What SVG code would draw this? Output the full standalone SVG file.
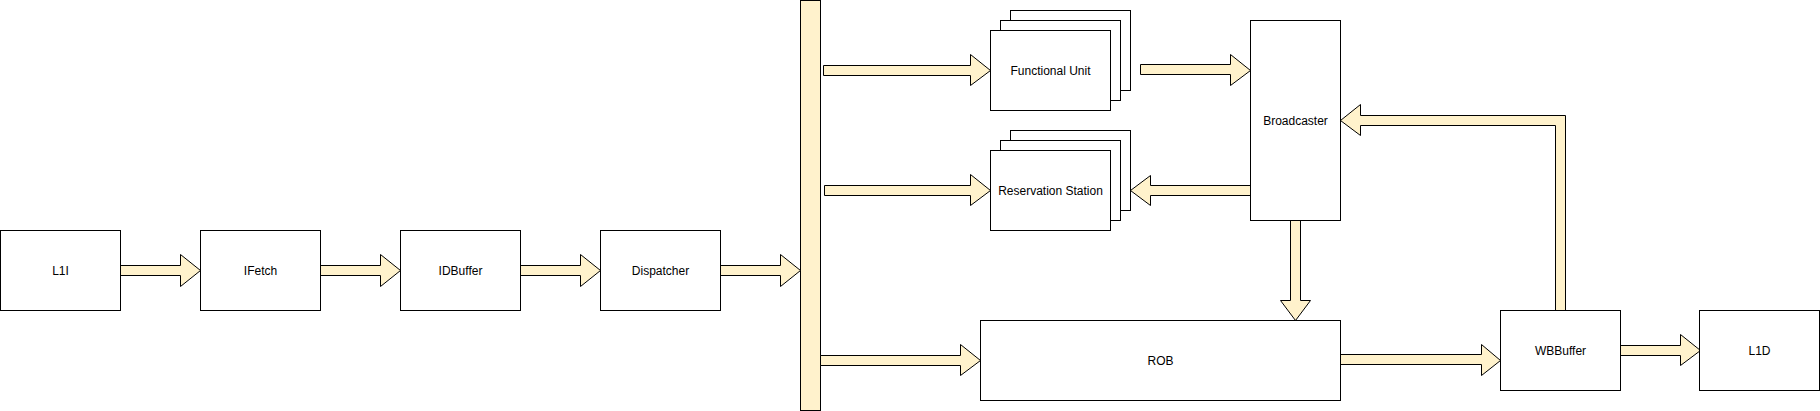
<svg xmlns="http://www.w3.org/2000/svg" width="1820" height="411" viewBox="0 0 1820 411">
<style>
.box{fill:#ffffff;stroke:#000000;stroke-width:1}
.arr{fill:#fff2cc;stroke:#000000;stroke-width:1;stroke-linejoin:miter}
.bar{fill:#fff2cc;stroke:#000000;stroke-width:1}
.lbl{font-family:"Liberation Sans",Arial,sans-serif;font-size:12px;fill:#000000;text-anchor:middle;dominant-baseline:central}
</style>
<rect width="1820" height="411" fill="#ffffff"/>
<g id="bus">
<rect class="bar" x="800.5" y="0.5" width="20" height="410"/>
</g>
<g id="connectors">
<path class="arr" d="M120.5,265.5 L180.5,265.5 L180.5,254.5 L200.5,270.5 L180.5,286.5 L180.5,275.5 L120.5,275.5 Z"/>
<path class="arr" d="M320.5,265.5 L380.5,265.5 L380.5,254.5 L400.5,270.5 L380.5,286.5 L380.5,275.5 L320.5,275.5 Z"/>
<path class="arr" d="M520.5,265.5 L580.5,265.5 L580.5,254.5 L600.5,270.5 L580.5,286.5 L580.5,275.5 L520.5,275.5 Z"/>
<path class="arr" d="M720.5,265.5 L780.5,265.5 L780.5,254.5 L800.5,270.5 L780.5,286.5 L780.5,275.5 L720.5,275.5 Z"/>
<path class="arr" d="M823.5,65.5 L970.5,65.5 L970.5,54.5 L990.5,70.5 L970.5,85.5 L970.5,75.5 L823.5,75.5 Z"/>
<path class="arr" d="M824.5,185.5 L970.5,185.5 L970.5,174.5 L990.5,190.5 L970.5,205.5 L970.5,195.5 L824.5,195.5 Z"/>
<path class="arr" d="M820.5,355.5 L960.5,355.5 L960.5,344.5 L980.5,360.5 L960.5,375.5 L960.5,365.5 L820.5,365.5 Z"/>
<path class="arr" d="M1140.5,64.5 L1230.5,64.5 L1230.5,54.5 L1250.5,70.5 L1230.5,85.5 L1230.5,74.5 L1140.5,74.5 Z"/>
<path class="arr" d="M1250.5,185.5 L1150.5,185.5 L1150.5,175.5 L1130.5,190.5 L1150.5,205.5 L1150.5,195.5 L1250.5,195.5 Z"/>
<path class="arr" d="M1290.5,220.5 L1290.5,300.5 L1280.5,300.5 L1295.5,320.5 L1310.5,300.5 L1300.5,300.5 L1300.5,220.5 Z"/>
<path class="arr" d="M1340.5,354.5 L1481.5,354.5 L1481.5,344.5 L1500.5,360.5 L1481.5,375.5 L1481.5,364.5 L1340.5,364.5 Z"/>
<path class="arr" d="M1620.5,345.5 L1680.5,345.5 L1680.5,334.5 L1700.5,350.5 L1680.5,365.5 L1680.5,355.5 L1620.5,355.5 Z"/>
<path class="arr" d="M1555.5,310.5 L1555.5,125.5 L1360.5,125.5 L1360.5,135.5 L1340.5,120.5 L1360.5,104.5 L1360.5,115.5 L1565.5,115.5 L1565.5,310.5 Z"/>
</g>
<g id="L1I">
<rect class="box" x="0.5" y="230.5" width="120" height="80"/>
<text class="lbl" x="60.5" y="270.5">L1I</text>
</g>
<g id="IFetch">
<rect class="box" x="200.5" y="230.5" width="120" height="80"/>
<text class="lbl" x="260.5" y="270.5">IFetch</text>
</g>
<g id="IDBuffer">
<rect class="box" x="400.5" y="230.5" width="120" height="80"/>
<text class="lbl" x="460.5" y="270.5">IDBuffer</text>
</g>
<g id="Dispatcher">
<rect class="box" x="600.5" y="230.5" width="120" height="80"/>
<text class="lbl" x="660.5" y="270.5">Dispatcher</text>
</g>
<g id="FunctionalUnit">
<rect class="box" x="1010.5" y="10.5" width="120" height="80"/>
<rect class="box" x="1000.5" y="20.5" width="120" height="80"/>
<rect class="box" x="990.5" y="30.5" width="120" height="80"/>
<text class="lbl" x="1050.5" y="70.5">Functional Unit</text>
</g>
<g id="ReservationStation">
<rect class="box" x="1010.5" y="130.5" width="120" height="80"/>
<rect class="box" x="1000.5" y="140.5" width="120" height="80"/>
<rect class="box" x="990.5" y="150.5" width="120" height="80"/>
<text class="lbl" x="1050.5" y="190.5">Reservation Station</text>
</g>
<g id="Broadcaster">
<rect class="box" x="1250.5" y="20.5" width="90" height="200"/>
<text class="lbl" x="1295.5" y="120.5">Broadcaster</text>
</g>
<g id="ROB">
<rect class="box" x="980.5" y="320.5" width="360" height="80"/>
<text class="lbl" x="1160.5" y="360.5">ROB</text>
</g>
<g id="WBBuffer">
<rect class="box" x="1500.5" y="310.5" width="120" height="80"/>
<text class="lbl" x="1560.5" y="350.5">WBBuffer</text>
</g>
<g id="L1D">
<rect class="box" x="1699.5" y="310.5" width="120" height="80"/>
<text class="lbl" x="1759.5" y="350.5">L1D</text>
</g>
</svg>
